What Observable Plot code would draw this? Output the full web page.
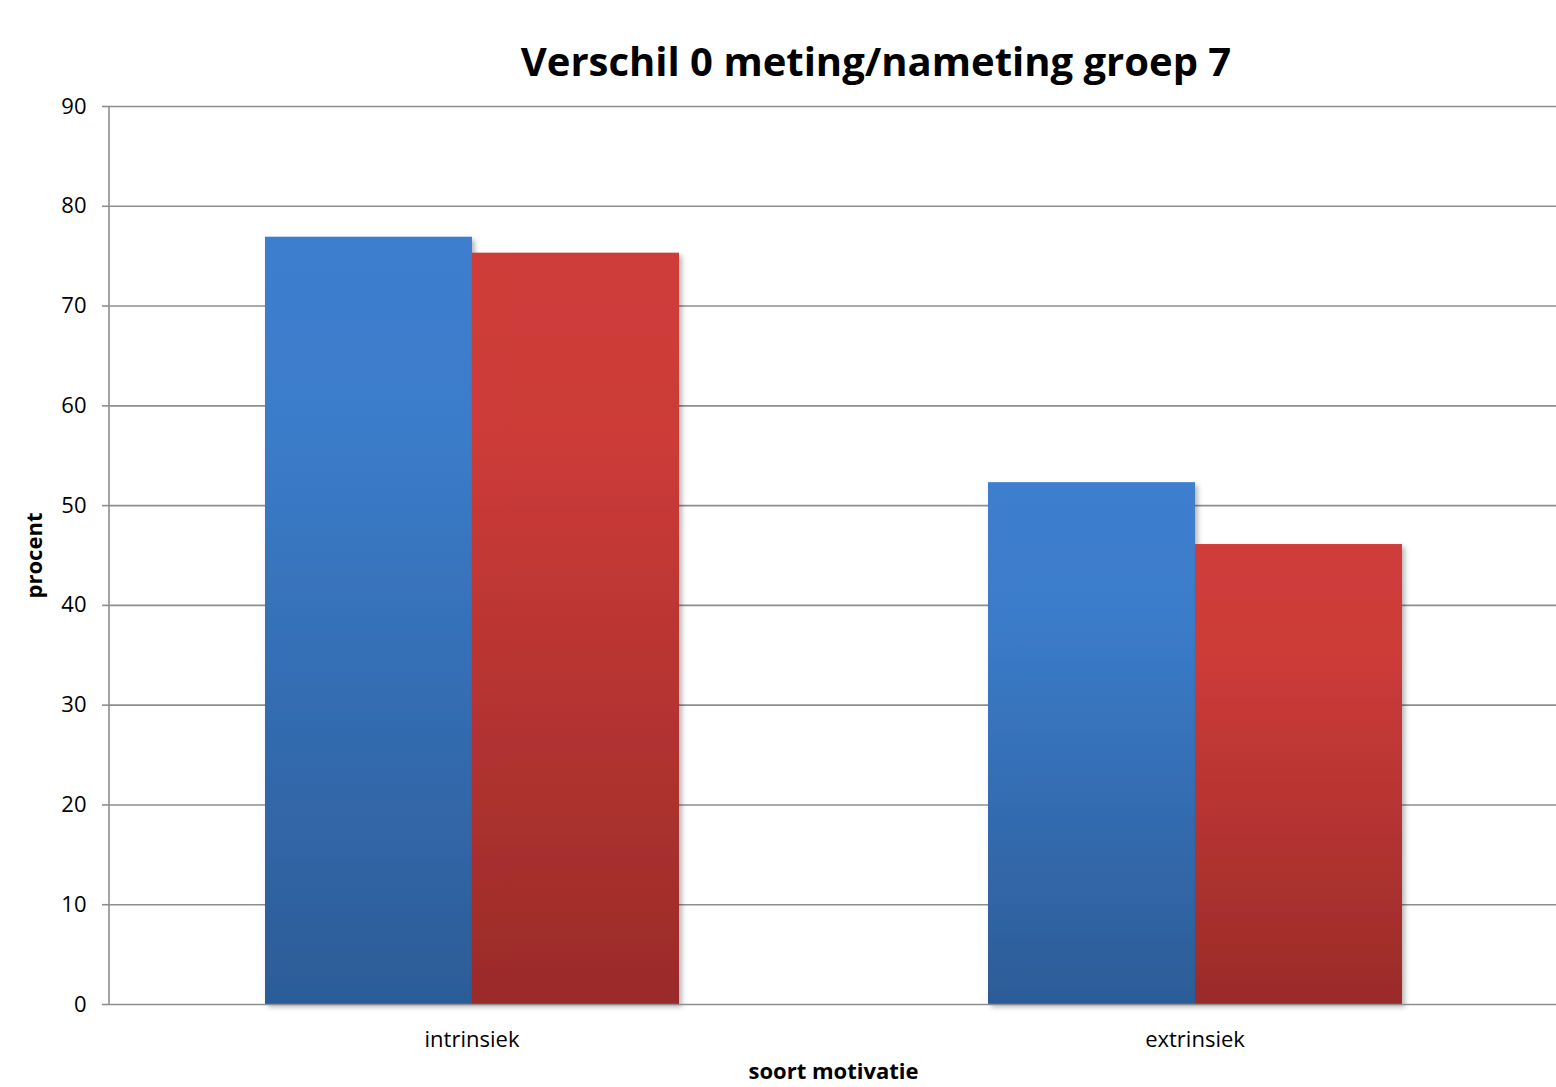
<!DOCTYPE html>
<html>
<head>
<meta charset="utf-8">
<script src="https://cdn.jsdelivr.net/npm/d3@7"></script>
<script src="https://cdn.jsdelivr.net/npm/@observablehq/plot@0.6"></script>
<style>
  html, body { margin: 0; padding: 0; background: #fff; }
  #wrap { position: relative; width: 1556px; height: 1087px; overflow: hidden; }
  #title { height: 80px; box-sizing: border-box; padding-top: 37px; padding-left: 196px;
           text-align: center; font-family: "Open Sans", sans-serif; font-weight: bold; font-size: 40px;
           line-height: 48px; color: #000; white-space: nowrap; }
  #chart svg { display: block; }
  #chart g[aria-label="y-axis label"] text, #chart g[aria-label="fx-axis label"] text { font-weight: bold; }
</style>
</head>
<body>
<svg width="0" height="0" style="position:absolute">
  <defs>
    <linearGradient id="gradBlue" x1="0" y1="0" x2="0" y2="1">
      <stop offset="0" stop-color="#3d7ecf"/>
      <stop offset="0.25" stop-color="#3b7cca"/>
      <stop offset="1" stop-color="#2c5c97"/>
    </linearGradient>
    <linearGradient id="gradRed" x1="0" y1="0" x2="0" y2="1">
      <stop offset="0" stop-color="#cf3d3a"/>
      <stop offset="0.25" stop-color="#cc3b38"/>
      <stop offset="1" stop-color="#9a2b29"/>
    </linearGradient>
    <filter id="shadow" x="-10%" y="-10%" width="130%" height="130%">
      <feDropShadow dx="3" dy="3" stdDeviation="2.5" flood-color="#000" flood-opacity="0.28"/>
    </filter>
  </defs>
</svg>
<div id="wrap">
  <div id="title">Verschil 0 meting/nameting groep 7</div>
  <div id="chart"></div>
</div>
<script>
const categories = ["intrinsiek", "extrinsiek"];
const series = ["0 meting", "nameting"];
const meting0 = [76.9, 52.3];
const nameting = [75.3, 46.1];
const yTicks = [0, 10, 20, 30, 40, 50, 60, 70, 80, 90];

const data = [];
categories.forEach((c, i) => {
  data.push({category: c, series: series[0], value: meting0[i]});
  data.push({category: c, series: series[1], value: nameting[i]});
});

const gridColor = "#8e8e8e";

const chart = Plot.plot({
  width: 1556,
  height: 1007,
  marginTop: 26,
  marginLeft: 109,
  marginRight: 0,
  marginBottom: 83,
  style: {fontFamily: "Open Sans, sans-serif", fontSize: "22px", color: "#000", background: "#fff", overflow: "visible"},
  fx: {domain: categories, padding: 0},
  x: {domain: series, paddingInner: 0, paddingOuter: 0.74, axis: null},
  y: {domain: [0, 90]},
  marks: [
    Plot.ruleY(yTicks.slice(1), {stroke: gridColor, strokeWidth: 1.6}),
    Plot.barY(data.filter(d => d.series === series[0]), {fx: "category", x: "series", y: "value", fill: "url(#gradBlue)"}),
    Plot.barY(data.filter(d => d.series === series[1]), {fx: "category", x: "series", y: "value", fill: "url(#gradRed)"}),
    Plot.ruleY([0], {stroke: gridColor, strokeWidth: 1.6}),
    Plot.axisY({ticks: yTicks, tickSize: 8, tickPadding: 16, stroke: gridColor, strokeWidth: 1.6, fill: "#000", fontSize: 22,
                label: "procent", labelAnchor: "center", labelOffset: 84, labelArrow: "none"}),
    Plot.axisFx({anchor: "bottom", tickSize: 0, tickPadding: 27, fill: "#000", fontSize: 22,
                 label: "soort motivatie", labelAnchor: "center", labelOffset: 74, labelArrow: "none"})
  ]
});
document.getElementById("chart").appendChild(chart);
d3.select(chart).selectAll('g[aria-label="bar"] rect').attr("filter", "url(#shadow)");

// vertical axis line along the left edge of the frame, positioned by the plot's y scale
const yScale = chart.scale("y");
d3.select(chart).append("line")
  .attr("x1", 109).attr("x2", 109)
  .attr("y1", yScale.apply(90)).attr("y2", yScale.apply(0))
  .attr("stroke", gridColor).attr("stroke-width", 1.6);
</script>
</body>
</html>
